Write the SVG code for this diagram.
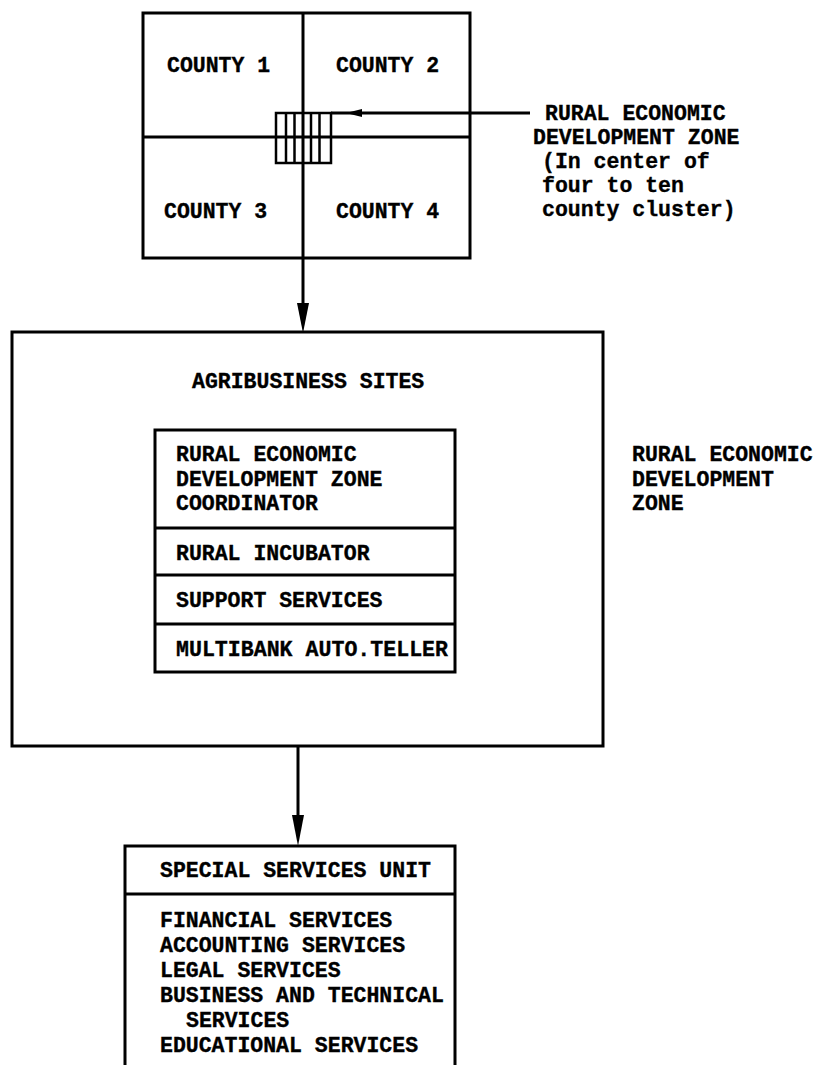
<svg xmlns="http://www.w3.org/2000/svg" width="820" height="1065" viewBox="0 0 820 1065">
  <style>
    .box { fill: none; stroke: #000; stroke-width: 3; stroke-linejoin: miter; }
    .thin { fill: none; stroke: #000; stroke-width: 2.5; }
    .conn { fill: none; stroke: #000; stroke-width: 3; }
    .head { fill: #000; stroke: none; }
    text { font-family: "Liberation Mono", "Courier New", monospace; font-weight: bold; font-size: 21.5px; fill: #000; stroke: #000; stroke-width: 0.35; }
  </style>

  <rect width="820" height="1065" fill="#fff"/>

  <!-- County cluster map with the zone at its centre -->
  <g id="county-cluster">
    <rect class="box" x="143" y="13" width="327" height="245"/>
    <line class="box" x1="143" y1="137" x2="470" y2="137"/>
    <line class="box" x1="303" y1="13" x2="303" y2="258"/>
    <text x="167" y="72">COUNTY 1</text>
    <text x="336" y="72">COUNTY 2</text>
    <text x="164" y="218">COUNTY 3</text>
    <text x="336" y="218">COUNTY 4</text>
  </g>

  <!-- Small hatched block marking the zone -->
  <g id="zone-marker">
    <rect class="thin" x="276" y="113" width="55" height="50"/>
    <line class="thin" x1="286" y1="113" x2="286" y2="163"/>
    <line class="thin" x1="294.5" y1="113" x2="294.5" y2="163"/>
    <line class="thin" x1="311" y1="113" x2="311" y2="163"/>
    <line class="thin" x1="319.5" y1="113" x2="319.5" y2="163"/>
  </g>

  <g id="zone-label">
    <text x="545" y="120">RURAL ECONOMIC</text>
    <text x="533" y="144">DEVELOPMENT ZONE</text>
    <text x="542" y="168">(In center of</text>
    <text x="542" y="192">four to ten</text>
    <text x="542" y="216">county cluster)</text>
  </g>

  <!-- Rural economic development zone -->
  <g id="agribusiness-sites">
    <rect class="box" x="12" y="332" width="591" height="414"/>
    <text x="192" y="388">AGRIBUSINESS SITES</text>
  </g>

  <g id="zone-components">
    <rect class="box" x="155" y="430" width="300" height="242"/>
    <line class="box" x1="155" y1="528" x2="455" y2="528"/>
    <line class="box" x1="155" y1="575" x2="455" y2="575"/>
    <line class="box" x1="155" y1="624" x2="455" y2="624"/>
    <text x="176" y="461">RURAL ECONOMIC</text>
    <text x="176" y="486">DEVELOPMENT ZONE</text>
    <text x="176" y="510">COORDINATOR</text>
    <text x="176" y="560">RURAL INCUBATOR</text>
    <text x="176" y="607">SUPPORT SERVICES</text>
    <text x="176" y="656" textLength="272" lengthAdjust="spacingAndGlyphs">MULTIBANK AUTO.TELLER</text>
  </g>

  <g id="zone-title">
    <text x="632" y="461">RURAL ECONOMIC</text>
    <text x="632" y="486">DEVELOPMENT</text>
    <text x="632" y="510">ZONE</text>
  </g>

  <!-- Special services unit (open at the bottom) -->
  <g id="special-services">
    <path class="box" d="M125,1065 V846 H455 V1065"/>
    <line class="box" x1="125" y1="894" x2="455" y2="894"/>
    <text x="160" y="877">SPECIAL SERVICES UNIT</text>
    <text x="160" y="927">FINANCIAL SERVICES</text>
    <text x="160" y="952">ACCOUNTING SERVICES</text>
    <text x="160" y="977">LEGAL SERVICES</text>
    <text x="160" y="1002">BUSINESS AND TECHNICAL</text>
    <text x="186" y="1027">SERVICES</text>
    <text x="160" y="1052">EDUCATIONAL SERVICES</text>
  </g>

  <!-- Connectors -->
  <g id="connectors">
    <line class="conn" x1="331" y1="113" x2="530" y2="113" stroke-width="2.5"/>
    <polygon class="head" points="346,113 362,109 362,117"/>
    <line class="conn" x1="303" y1="258" x2="303" y2="310"/>
    <polygon class="head" points="297,303 309,303 303,333"/>
    <line class="conn" x1="298" y1="746" x2="298" y2="820"/>
    <polygon class="head" points="292,815 304,815 298,846"/>
  </g>
</svg>
